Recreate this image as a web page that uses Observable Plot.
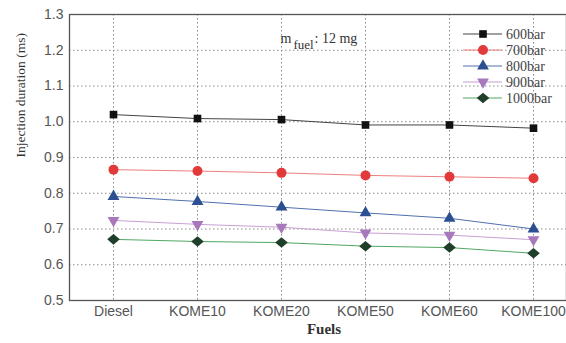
<!DOCTYPE html>
<html><head><meta charset="utf-8">
<script src="https://cdn.jsdelivr.net/npm/d3@7"></script>
<script src="https://cdn.jsdelivr.net/npm/@observablehq/plot@0.6"></script>
<style>
body{margin:0;background:#fff;}
#wrap{position:relative;width:566px;height:343px;overflow:hidden;}
#legend{position:absolute;left:0;top:0;}
</style></head>
<body><div id="wrap"></div>
<script>
const fuels = ["Diesel","KOME10","KOME20","KOME50","KOME60","KOME100"];
const seriesNames = ["600bar","700bar","800bar","900bar","1000bar"];
const v600  = [1.020, 1.009, 1.006, 0.991, 0.991, 0.982];
const v700  = [0.866, 0.862, 0.857, 0.850, 0.846, 0.842];
const v800  = [0.791, 0.777, 0.761, 0.745, 0.730, 0.700];
const v900  = [0.724, 0.713, 0.705, 0.689, 0.683, 0.670];
const v1000 = [0.671, 0.665, 0.662, 0.652, 0.648, 0.632];
const yTicks = [0.5,0.6,0.7,0.8,0.9,1.0,1.1,1.2,1.3];

const seriesValues = [v600, v700, v800, v900, v1000];
const lineColors = ["#444444","#ee8080","#5070b0","#c8a0d4","#50a860"];
const markColors = ["#111111","#e23a3a","#2c4f92","#a878bc","#1f3f2a"];

const triDown = {draw(ctx, size){
  const y = -Math.sqrt(size / (3 * Math.sqrt(3)));
  ctx.moveTo(0, -y*2); ctx.lineTo(-Math.sqrt(3)*y, y); ctx.lineTo(Math.sqrt(3)*y, y); ctx.closePath();
}};
const wideDiamond = {draw(ctx, size){
  const h = Math.sqrt(size/2.4);
  const w = h*1.2;
  ctx.moveTo(0,-h); ctx.lineTo(w,0); ctx.lineTo(0,h); ctx.lineTo(-w,0); ctx.closePath();
}};
const symbols = ["square","circle","triangle",triDown,wideDiamond];
const radii = [4.3,5,4.4,4.4,4.6];

const data = [];
seriesNames.forEach((s,i)=>fuels.forEach((f,j)=>data.push({series:s, fuel:f, value:seriesValues[i][j]})));

const serif = "Liberation Serif, Times New Roman, serif";
const sans = "Liberation Sans, Arial, sans-serif";
const marks = [
  Plot.gridY(yTicks, {stroke:"#8a8a8a", strokeOpacity:1, strokeDasharray:"1.5,2.5"}),
  Plot.gridX(fuels, {stroke:"#8a8a8a", strokeOpacity:1, strokeDasharray:"1.5,2.5"}),
  Plot.frame({stroke:"#555", strokeWidth:1.3}),
  Plot.axisY(yTicks, {tickFormat:d3.format(".1f"), tickSize:0, tickPadding:6, fontSize:14, fill:"#555", fontFamily:sans, label:null}),
  Plot.axisX(fuels, {tickSize:0, tickPadding:6, fontSize:14, fill:"#555", fontFamily:sans, label:null}),
  Plot.text(["Injection duration (ms)"], {frameAnchor:"left", rotate:-90, dx:-49, fontSize:13.5, fill:"#333", fontFamily:serif}),
  Plot.text(["Fuels"], {frameAnchor:"bottom", dy:33, dx:6, fontSize:15, fontWeight:"bold", fill:"#333", fontFamily:serif}),
  Plot.text(["m"], {frameAnchor:"top-left", dx:211, dy:19, textAnchor:"start", fontSize:14, fill:"#333", fontFamily:serif}),
  Plot.text(["fuel"], {frameAnchor:"top-left", dx:224, dy:25, textAnchor:"start", fontSize:13, fill:"#333", fontFamily:serif}),
  Plot.text([": 12 mg"], {frameAnchor:"top-left", dx:245, dy:19, textAnchor:"start", fontSize:14, fill:"#333", fontFamily:serif})
];
seriesNames.forEach((s,i)=>{
  const d = data.filter(r=>r.series===s);
  marks.push(Plot.line(d, {x:"fuel", y:"value", stroke:lineColors[i], strokeWidth:1}));
  marks.push(Plot.dot(d, {x:"fuel", y:"value", symbol:()=>symbols[i], r:radii[i], fill:markColors[i], stroke:"none"}));
});

const chart = Plot.plot({
  width:566, height:343,
  marginLeft:69, marginRight:0, marginTop:14, marginBottom:43,
  x:{type:"point", domain:fuels, padding:0, insetLeft:43, insetRight:32},
  y:{domain:[0.5,1.3]},
  symbol:{type:"identity"},
  marks
});
document.getElementById("wrap").appendChild(chart);

// legend
const leg = d3.select("#wrap").append("svg").attr("id","legend").attr("width",566).attr("height",343);
seriesNames.forEach((s,i)=>{
  const y = 34 + i*16;
  const g = leg.append("g");
  g.append("line").attr("x1",463).attr("x2",502).attr("y1",y).attr("y2",y).attr("stroke",lineColors[i]).attr("stroke-width",1.2);
  const sym = typeof symbols[i]==="string" ? {square:d3.symbolSquare,circle:d3.symbolCircle,triangle:d3.symbolTriangle}[symbols[i]] : symbols[i];
  const size = Math.PI*radii[i]*radii[i];
  g.append("path").attr("d", d3.symbol(sym, size)()).attr("transform",`translate(483,${y})`).attr("fill",markColors[i]);
  g.append("text").attr("x",506).attr("y",y).attr("dy","0.35em").style("font-family",serif).attr("font-size",14).attr("fill","#444").text(s);
});
</script></body></html>
